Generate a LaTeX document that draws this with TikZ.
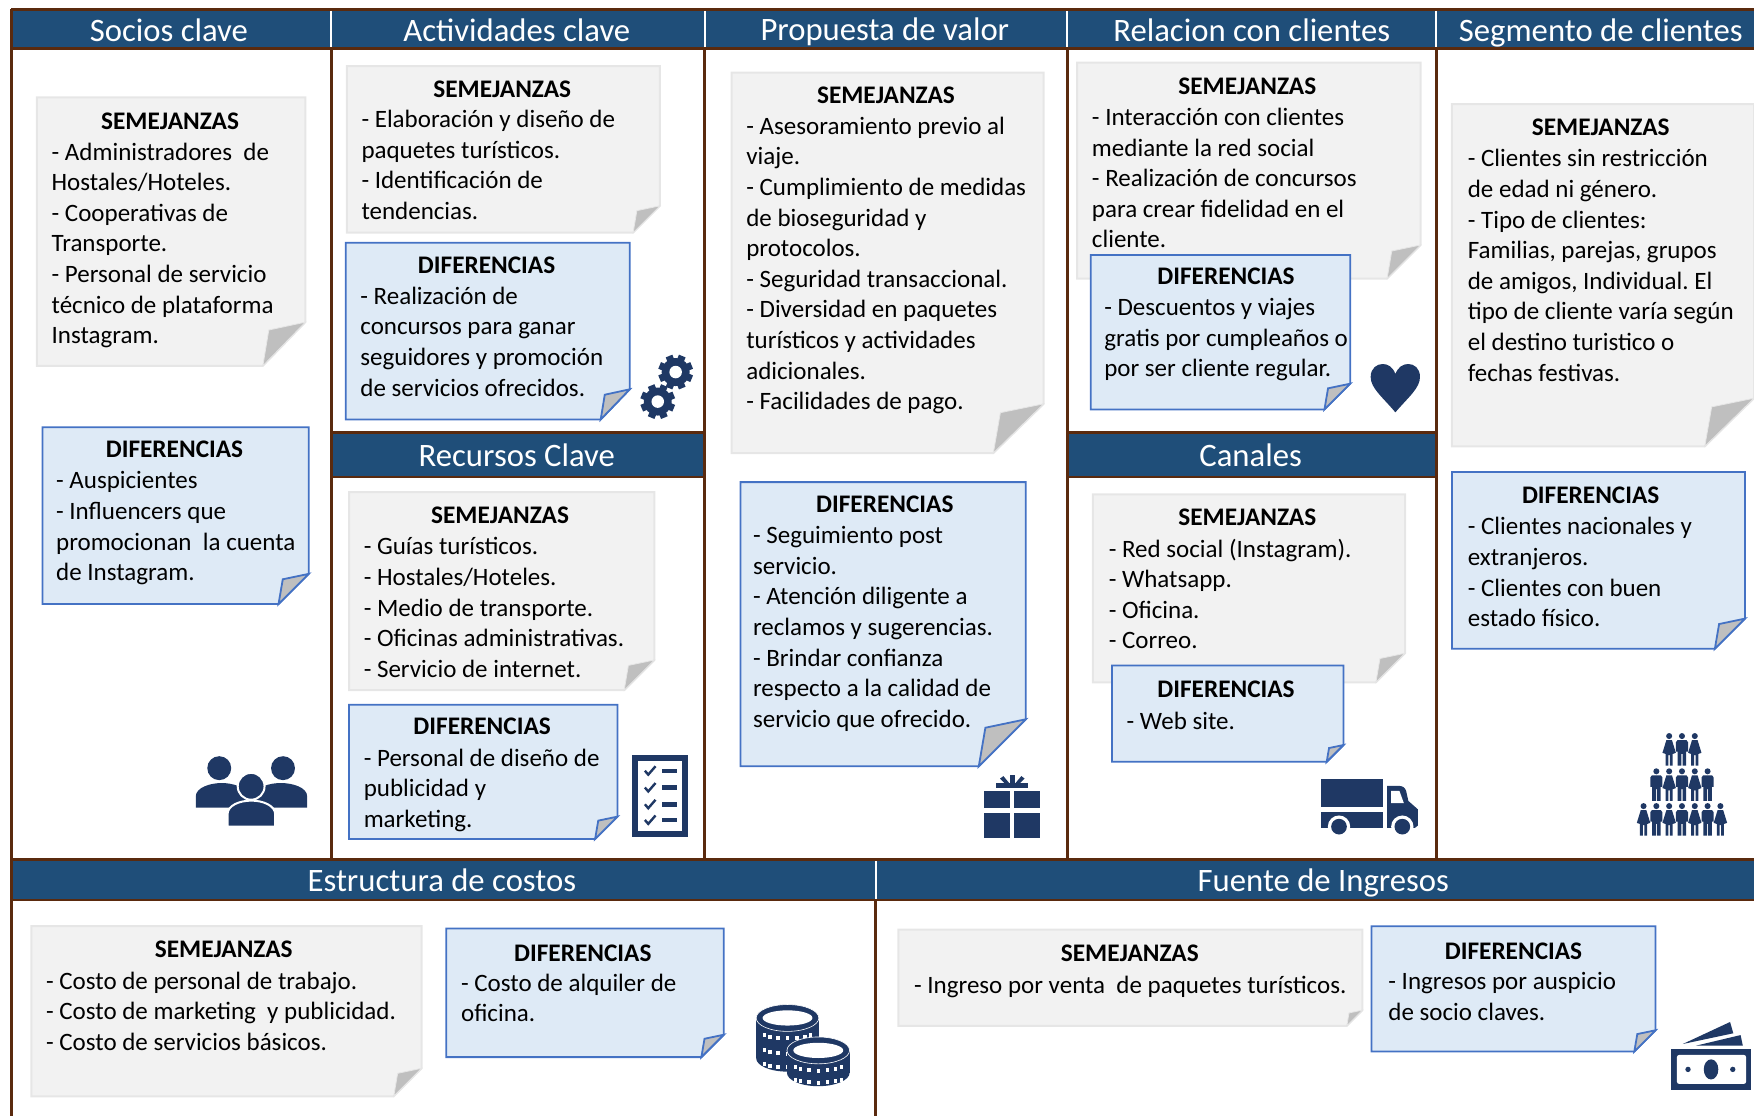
\documentclass[tikz,border=0pt]{standalone}
\usepackage{fontspec}
\setmainfont{Carlito}
\frenchspacing
\definecolor{bandblue}{HTML}{1F4E79}
\definecolor{linebrown}{HTML}{5A2A0E}
\definecolor{icondark}{HTML}{1F3864}
\definecolor{semfill}{HTML}{F2F2F2}
\definecolor{semline}{HTML}{E6E6E6}
\definecolor{diffill}{HTML}{DEEAF6}
\definecolor{difline}{HTML}{4472C4}
\definecolor{foldgray}{HTML}{BFBFBF}
% note sheet: style, x1, y1, x2, y2, fold x, fold y
\newcommand{\notesheet}[7]{
	\draw[#1] (#2,#3) -- (#4,#3) -- (#4,{#5-#7}) -- ({#4-#6},#5) -- (#2,#5) -- cycle;
	\draw[#1fold] (#4,{#5-#7}) -- ({#4-0.86*#6},{#5-0.82*#7}) -- ({#4-#6},#5) -- cycle;
}
\newcommand{\gearicon}[2]{
	\foreach \a in {0,45,...,315}
		\fill[iconfill,shift={(#1,#2)},rotate=\a+22.5] (-3.2,-15.5) rectangle (3.2,0);
	\fill[iconfill] (#1,#2) circle[radius=12.5];
	\fill[white] (#1,#2) circle[radius=5.6];
}
\newcommand{\maleicon}[2]{
	\fill[iconfill] (#1,#2) circle[radius=2.7];
	\fill[iconfill,shift={(#1,#2)}] (-4,3.6) -- (4,3.6) -- (5.4,5.5) -- (5.4,14) -- (3.8,14) -- (3.8,26.5) -- (0.5,26.5) -- (0.5,16) -- (-0.5,16) -- (-0.5,26.5) -- (-3.8,26.5) -- (-3.8,14) -- (-5.4,14) -- (-5.4,5.5) -- cycle;
}
\newcommand{\femaleicon}[2]{
	\fill[iconfill] (#1,#2) circle[radius=2.7];
	\fill[iconfill,shift={(#1,#2)}] (-2.5,3.6) -- (2.5,3.6) -- (6,15) -- (3.2,16) -- (3.2,26.5) -- (0.7,26.5) -- (0.7,17) -- (-0.7,17) -- (-0.7,26.5) -- (-3.2,26.5) -- (-3.2,16) -- (-6,15) -- cycle;
}
% coin stack: x, y, height, list of rows of dots
\newcommand{\coinstack}[4]{
	\fill[iconfill] (#1,{#2+#3}) ellipse[x radius=28,y radius=12];
	\fill[iconfill] ({#1-28},#2) rectangle ({#1+28},{#2+#3});
	\draw[iconfill,draw=white,line width=0.6pt] (#1,#2) ellipse[x radius=28,y radius=12];
	\fill[white] (#1,#2) ellipse[x radius=22.3,y radius=6.8];
	\foreach \rw in {#4}
		\foreach \a in {-66,-44,...,66}
			\fill[white] ({#1+22.5*sin(\a)-1.5},{#2+\rw+5*cos(\a)-1.8}) rectangle +(3,3.6);
}
\begin{document}
\begin{tikzpicture}[x=1.11862pt,y=-1.11862pt]
		
		\tikzset{band/.style = {fill=bandblue}}
		\tikzset{rule/.style = {draw=linebrown,line width=2.8pt}}
		\tikzset{gap/.style = {draw=white,line width=1.8pt}}
		\tikzset{headlabel/.style = {text=white,anchor=base,inner sep=0,font=\fontsize{32.7}{38}\selectfont}}
		\tikzset{semnote/.style = {fill=semfill,draw=semline,line width=2pt}}
		\tikzset{semnotefold/.style = {fill=foldgray,draw=semline,line width=0.8pt}}
		\tikzset{difnote/.style = {fill=diffill,draw=difline,line width=1.8pt}}
		\tikzset{difnotefold/.style = {fill=foldgray,draw=difline,line width=1.8pt}}
		\tikzset{notetitle/.style = {inner sep=0,font=\fontsize{25.3}{30}\selectfont\bfseries}}
		\tikzset{notetext/.style = {inner sep=0,anchor=north west,align=left,yshift=9.6pt,font=\fontsize{25}{30.6}\selectfont,execute at begin node=\strut}}
		\tikzset{iconfill/.style = {fill=icondark}}
		
		\useasboundingbox (0,0) rectangle (1568,997.7);
		
		% header bands
		\fill[band] (10,9) rectangle (1568,43);
		\fill[band] (296,387) rectangle (630,426);
		\fill[band] (954,387) rectangle (1284,426);
		\fill[band] (10,769) rectangle (1568,804);
		% rules
		\draw[rule] (10,8.5) -- (1568,8.5);
		\draw[rule] (10,43.5) -- (1568,43.5);
		\draw[rule] (296,386.5) -- (630,386.5);
		\draw[rule] (296,426.5) -- (630,426.5);
		\draw[rule] (954,386.5) -- (1284,386.5);
		\draw[rule] (954,426.5) -- (1284,426.5);
		\draw[rule] (10,768.5) -- (1568,768.5);
		\draw[rule] (10,804.5) -- (1568,804.5);
		\draw[rule] (10,8) -- (10,998);
		\draw[rule] (296,43) -- (296,768);
		\draw[rule] (630,43) -- (630,768);
		\draw[rule] (954,43) -- (954,768);
		\draw[rule] (1284,43) -- (1284,768);
		\draw[rule] (783,804) -- (783,998);
		\foreach \x in {296,630,954,1284}
			\draw[gap] (\x,9.8) -- (\x,42.3);
		\draw[gap] (783,770) -- (783,803.3);
		
		% header labels
		\node[headlabel] (socios) at (151,36.9) {Socios clave};
		\node[headlabel] (actividades) at (462,36.9) {Actividades clave};
		\node[headlabel] (propuesta) at (791,35.9) {Propuesta de valor};
		\node[headlabel] (relacion) at (1119,36.9) {Relacion con clientes};
		\node[headlabel] (segmento) at (1431,36.9) {Segmento de clientes};
		\node[headlabel] (recursos) at (462,416.9) {Recursos Clave};
		\node[headlabel] (canales) at (1118,416.9) {Canales};
		\node[headlabel] (estructura) at (395,797) {Estructura de costos};
		\node[headlabel] (fuente) at (1183,797) {Fuente de Ingresos};
		
		% socios clave
		\notesheet{semnote}{33}{87}{273}{327}{38}{39}
		\node[notetitle] (sem1) at (152,108) {SEMEJANZAS};
		\node[notetext] (semtext1) at (46,136) {- Administradores\ \ de\\Hostales/Hoteles.\\- Cooperativas de\\Transporte.\\- Personal de servicio\\técnico de plataforma\\Instagram.};
		\notesheet{difnote}{38}{382}{276}{540}{27}{27}
		\node[notetitle] (dif1) at (156,402) {DIFERENCIAS};
		\node[notetext] (diftext1) at (50,430) {- Auspicientes\\- Influencers que\\promocionan\ \ la cuenta\\de Instagram.};
		
		% actividades clave
		\notesheet{semnote}{310}{59}{590}{208}{24}{24}
		\node[notetitle] (sem2) at (449,80) {SEMEJANZAS};
		\node[notetext] (semtext2) at (323,107) {- Elaboración y diseño de\\paquetes turísticos.\\- Identificación de\\tendencias.};
		\notesheet{difnote}{309}{217}{563}{375}{26}{27}
		\node[notetitle] (dif2) at (435,237) {DIFERENCIAS};
		\node[notetext] (diftext2) at (322,265) {- Realización de\\concursos para ganar\\seguidores y promoción\\de servicios ofrecidos.};
		
		% recursos clave
		\notesheet{semnote}{312}{440}{585}{617}{27}{27}
		\node[notetitle] (sem3) at (447,461) {SEMEJANZAS};
		\node[notetext] (semtext3) at (325,489) {- Guías turísticos.\\- Hostales/Hoteles.\\- Medio de transporte.\\- Oficinas administrativas.\\- Servicio de internet.};
		\notesheet{difnote}{312}{630}{552}{750}{20}{20}
		\node[notetitle] (dif3) at (431,649) {DIFERENCIAS};
		\node[notetext] (diftext3) at (325,678) {- Personal de diseño de\\publicidad y\\marketing.};
		
		% propuesta de valor
		\notesheet{semnote}{654}{65}{933}{405}{45}{44}
		\node[notetitle] (sem4) at (792,85) {SEMEJANZAS};
		\node[notetext] (semtext4) at (667,113) {- Asesoramiento previo al\\viaje.\\- Cumplimiento de medidas\\de bioseguridad y\\protocolos.\\- Seguridad transaccional.\\- Diversidad en paquetes\\turísticos y actividades\\adicionales.\\- Facilidades de pago.};
		\notesheet{difnote}{662}{431}{917}{685}{42}{42}
		\node[notetitle] (dif4) at (791,451) {DIFERENCIAS};
		\node[notetext] (diftext4) at (673,479) {- Seguimiento post\\servicio.\\- Atención diligente a\\reclamos y sugerencias.\\- Brindar confianza\\respecto a la calidad de\\servicio que ofrecido.};
		
		% relacion con clientes
		\notesheet{semnote}{963}{56}{1270}{249}{30}{30}
		\node[notetitle] (sem5) at (1115,77) {SEMEJANZAS};
		\node[notetext] (semtext5) at (976,105) {- Interacción con clientes\\mediante la red social\\- Realización de concursos\\para crear fidelidad en el\\cliente.};
		\notesheet{difnote}{975}{228}{1207}{366}{23}{23}
		\node[notetitle] (dif5) at (1096,247) {DIFERENCIAS};
		\node[notetext] (diftext5) at (987,275) {- Descuentos y viajes\\gratis por cumpleaños o\\por ser cliente regular.};
		
		% canales
		\notesheet{semnote}{977}{442}{1256}{610}{26}{26}
		\node[notetitle] (sem6) at (1115,462) {SEMEJANZAS};
		\node[notetext] (semtext6) at (991,490) {- Red social (Instagram).\\- Whatsapp.\\- Oficina.\\- Correo.};
		\notesheet{difnote}{994}{595}{1201}{681}{15}{15}
		\node[notetitle] (dif6) at (1096,616) {DIFERENCIAS};
		\node[notetext] (diftext6) at (1007,641) {- Web site.};
		
		% segmento de clientes
		\notesheet{semnote}{1298}{93}{1568}{399}{44}{43}
		\node[notetitle] (sem7) at (1431,114) {SEMEJANZAS};
		\node[notetext] (semtext7) at (1312,142) {- Clientes sin restricción\\de edad ni género.\\- Tipo de clientes:\\Familias, parejas, grupos\\de amigos, Individual. El\\tipo de cliente varía según\\el destino turistico o\\fechas festivas.};
		\notesheet{difnote}{1298}{422}{1560}{580}{27}{27}
		\node[notetitle] (dif7) at (1422,443) {DIFERENCIAS};
		\node[notetext] (diftext7) at (1312,471) {- Clientes nacionales y\\extranjeros.\\- Clientes con buen\\estado físico.};
		
		% estructura de costos
		\notesheet{semnote}{28}{828}{377}{980}{25}{25}
		\node[notetitle] (sem8) at (200,849) {SEMEJANZAS};
		\node[notetext] (semtext8) at (41,877) {- Costo de personal de trabajo.\\- Costo de marketing\ \ y publicidad.\\- Costo de servicios básicos.};
		\notesheet{difnote}{399}{830}{647}{945}{20}{20}
		\node[notetitle] (dif8) at (521,852) {DIFERENCIAS};
		\node[notetext] (diftext8) at (412,879) {- Costo de alquiler de\\oficina.};
		
		% fuente de ingresos
		\notesheet{semnote}{803}{831}{1218}{917}{14}{14}
		\node[notetitle] (sem9) at (1010,852) {SEMEJANZAS};
		\node[notetext] (semtext9) at (817,877) {- Ingreso por venta\ \ de paquetes turísticos.};
		\notesheet{difnote}{1226}{828}{1480}{940}{19}{19}
		\node[notetitle] (dif9) at (1353,850) {DIFERENCIAS};
		\node[notetext] (diftext9) at (1241,878) {- Ingresos por auspicio\\de socio claves.};
		
		% people icon
		\fill[iconfill] (196,686.7) circle[radius=10.7];
		\fill[iconfill] (253,686.7) circle[radius=10.7];
		\fill[iconfill] (175,722) -- (175,712) .. controls (175,704) and (188,700) .. (198,700) .. controls (208,700) and (218,703) .. (226,712) -- (226,722) -- cycle;
		\fill[iconfill] (274.6,722) -- (274.6,712) .. controls (274.6,704) and (262,700) .. (251,700) .. controls (241,700) and (231,703) .. (223,712) -- (223,722) -- cycle;
		\draw[iconfill,draw=white,line width=2pt] (224.5,702.9) circle[radius=12];
		\draw[iconfill,draw=white,line width=2pt] (203.4,739) -- (203.4,728) .. controls (203.4,720) and (214,715.7) .. (224.7,715.7) .. controls (235,715.7) and (246,720) .. (246,728) -- (246,739) -- cycle;
		
		% gears
		\gearicon{604}{332.6}
		\gearicon{588}{359}
		
		% checklist
		\fill[iconfill] (565,674.5) rectangle (615,748);
		\fill[white] (570,680) rectangle (610,743);
		\foreach \y in {689,704,719,733} {
			\draw[icondark,line width=2.4pt] (576.5,\y) -- (579.5,{\y+3.5}) -- (586,{\y-4});
			\fill[iconfill] (592,{\y-2}) rectangle (605,{\y+2});
		}
		
		% gift
		\fill[iconfill] (879.7,707) rectangle (902.9,722.3);
		\fill[iconfill] (906.5,707) rectangle (929.7,722.3);
		\fill[iconfill] (879.7,726.8) rectangle (902.9,748.9);
		\fill[iconfill] (906.5,726.8) rectangle (929.7,748.9);
		\fill[iconfill] (890.4,700.3) rectangle (919.3,704.7);
		\fill[iconfill] (902.6,701) -- (902.6,692.8) -- (907.4,692.8) -- (907.4,701) -- cycle;
		\fill[iconfill] (899,701) -- (894,696) -- (897,693.8) -- (903,701) -- cycle;
		\fill[iconfill] (911,701) -- (916,696) -- (913,693.8) -- (907,701) -- cycle;
		
		% heart
		\fill[iconfill] (1247.4,368.6) .. controls (1236,355) and (1225.3,347) .. (1225.3,337) .. controls (1225.3,329) and (1231,325.4) .. (1236,325.4) .. controls (1241,325.4) and (1245,328) .. (1247.4,334.3) .. controls (1250,328) and (1254,325.4) .. (1259,325.4) .. controls (1264,325.4) and (1269.4,329) .. (1269.4,337) .. controls (1269.4,347) and (1259,355) .. (1247.4,368.6) -- cycle;
		
		% truck
		\fill[iconfill] (1181,696) rectangle (1236,721.5);
		\fill[iconfill] (1181,726) rectangle (1236,740);
		\fill[iconfill] (1240,702.5) -- (1250,702.5) .. controls (1254,702.5) and (1256,704) .. (1257,707) -- (1259,716) -- (1267.5,723.5) -- (1267.5,738) -- (1265,740) -- (1240,740) -- cycle;
		\fill[white] (1243.5,707) -- (1251,707) -- (1255,718) -- (1243.5,718) -- cycle;
		\fill[white] (1197,739) circle[radius=10];
		\fill[white] (1253.6,739) circle[radius=10];
		\fill[iconfill] (1197,739) circle[radius=7];
		\fill[iconfill] (1253.6,739) circle[radius=7];
		
		% people pyramid
		\foreach \k/\y in {-1/658,1/658,-1/689.5,1/689.5,-3/720.6,-1/720.6,1/720.6,3/720.6} {
			\femaleicon{1503.6+\k*11.45}{\y}
		}
		\foreach \k/\y in {0/658,-2/689.5,0/689.5,2/689.5,-2/720.6,0/720.6,2/720.6} {
			\maleicon{1503.6+\k*11.45}{\y}
		}
		
		% coins
		\coinstack{704}{910}{36}{13,27,39}
		\coinstack{731.5}{939}{20}{13,24}
		
		% money
		\fill[iconfill] (1494,938) rectangle (1565,974.5);
		\fill[white,rounded corners=2.5pt] (1499,943) rectangle (1561,969);
		\fill[iconfill] (1529.6,956) ellipse[x radius=6.5,y radius=9];
		\fill[iconfill] (1509,956) circle[radius=2.4];
		\fill[iconfill] (1549,956) circle[radius=2.4];
		\fill[iconfill] (1504.3,933.3) -- (1546.6,913.6) -- (1549.5,923.7) -- cycle;
		\fill[iconfill] (1516,934.8) -- (1556,925.3) -- (1558,934.8) -- cycle;
		\end{tikzpicture}
\end{document}
